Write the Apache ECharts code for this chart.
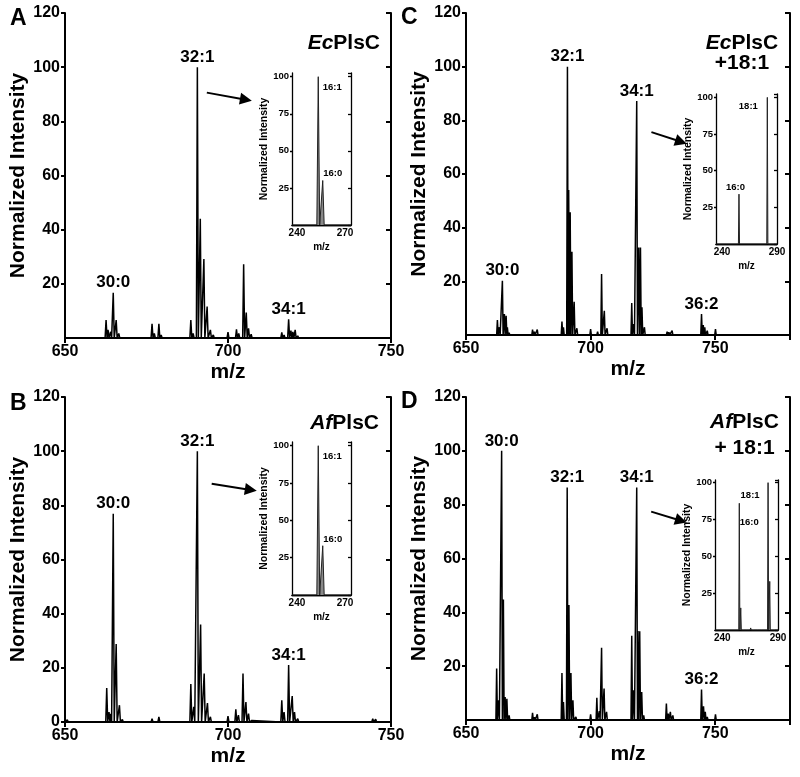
<!DOCTYPE html>
<html><head><meta charset="utf-8">
<script src="https://cdn.jsdelivr.net/npm/echarts@6/dist/echarts.min.js"></script>
<style>html,body{margin:0;padding:0;background:#fff}#c{width:800px;height:777px}</style>
</head><body><div id="c"></div>
<script>
const FONT = '"Liberation Sans", Arial, Helvetica, sans-serif';

// ---------------- DATA ----------------
// main spectra: [m/z, normalized intensity]
const peaksA = [[660.7,0.7],[662.6,6.6],[663.2,3],[664.0,2.3],[664.8,16.7],[665.7,6.6],[666.5,1.7],[667.3,0.6],
  [676.7,5.2],[677.4,1.7],[678.8,5.2],[679.5,1.1],
  [688.6,6.6],[689.3,1.7],[690.6,100],[691.5,44],[692.6,29.2],[693.6,11.6],[694.6,3],[695.5,1.1],
  [700.0,2.2],[702.6,3.2],[703.3,1.7],[704.8,27.2],[705.6,9.4],[706.3,3.6],[707.1,1.4],
  [716.5,2.1],[717.2,1.1],[718.6,6.9],[719.3,2.7],[719.9,2.3],[720.6,3],[721.4,0.8]];
const peaksB = [[650.7,0.8],[662.8,12.5],[663.5,3.7],[664.0,3],[664.8,76.9],[665.7,28.8],[666.7,6.2],[667.6,0.9],
  [676.7,1.2],[677.5,0.5],[678.8,1.9],[679.5,0.6],
  [688.6,14],[689.5,5.6],[690.6,100],[691.6,36],[692.7,17.9],[693.7,7],[694.6,1.9],
  [700.0,2.2],[702.4,4.7],[703.2,2.5],[704.6,17.9],[705.5,7.4],[706.3,3.1],[707.3,0.6],
  [716.5,8],[717.2,3.7],[718.6,21],[719.7,9.6],[720.4,3.7],[721.4,1.2],[722.1,0.5],
  [730.8,0.6],[732.7,0.6],[744.4,1.2],[745.3,1]];
const peaksC = [[662.6,5.6],[663.4,2.9],[664.6,20.2],[665.4,7.8],[666.1,7.2],[666.6,2.9],[667.3,0.8],
  [676.7,2],[677.4,1.2],[678.6,2],
  [688.5,5],[689.1,2.9],[690.7,100],[691.2,54],[691.8,45.7],[692.5,31],[693.4,12.4],[694.5,2.5],
  [700.0,2.2],[702.8,1.2],[704.4,22.7],[705.5,9],[706.6,2.5],
  [716.5,11.9],[717.3,4.1],[718.5,87.2],[719.3,32.6],[720.0,32.6],[720.6,10.3],[721.6,2.9],
  [730.7,1.2],[731.4,1],[732.7,1.6],
  [744.5,7.8],[745.2,3.7],[745.8,2.9],[746.8,1.6],
  [750.1,2.2]];
const peaksD = [[662.3,19.1],[663.1,7.3],[664.3,100],[665.0,44.8],[665.7,8.5],[666.4,7.9],[667.3,1.7],
  [676.7,2.7],[677.5,1],[678.6,2.1],
  [688.5,17.5],[689.1,6.7],[690.6,86.4],[691.3,42.7],[692.1,17.5],[692.9,7.3],[694.1,1.1],
  [700.0,2.1],[702.5,8.3],[703.5,3.3],[704.4,26.8],[705.4,11.7],[706.4,3],[707.5,0.5],
  [716.5,31.3],[717.3,11],[718.5,86.4],[719.0,33.1],[719.7,33],[720.5,10.4],[721.3,1.7],
  [730.4,6.1],[731.1,2.4],[732.0,3],[733.0,1.7],[734.0,0.6],
  [744.5,11.3],[745.3,5.1],[746.0,3],[746.8,1.1],
  [750.1,2.1]];

// peak annotations: [label, m/z, intensity]
const labelsA = [['30:0',664.8,16.7],['32:1',690.6,100],['34:1',718.6,6.9]];
const labelsB = [['30:0',664.8,76.9],['32:1',690.6,100],['34:1',718.6,21]];
const labelsC = [['30:0',664.6,20.2],['32:1',690.7,100],['34:1',718.5,87.2],['36:2',744.5,7.8]];
const labelsD = [['30:0',664.3,100],['32:1',690.6,86.4],['34:1',718.5,86.4],['36:2',744.5,11.3]];

// arrows: [start, end] in data coords
const arrowA = [[693.5,90.6],[705.5,88.0]];
const arrowB = [[695.0,88.0],[707.0,85.7]];
const arrowC = [[724.4,75.6],[736.3,72.0]];
const arrowD = [[724.3,77.4],[736.3,74.0]];

// inset spectra (fatty acids)
const insetPeaksA = [[253.3,100],[256.1,30]];
const insetPeaksB = [[253.3,100],[256.1,33],[268.5,1]];
const insetPeaksC = [[255.4,34],[281.2,100]];
const insetPeaksD = [[255.3,86],[256.6,15],[259.5,1.2],[262.5,0.8],[265.5,1.4],[268.5,0.8],[272.0,1.2],[275.5,0.8],[281.1,100],[282.6,33]];
const insetLabelsA = [['16:1',253.3,100],['16:0',256.1,30]];
const insetLabelsB = [['16:1',253.3,100],['16:0',256.1,33]];
const insetLabelsC = [['16:0',255.4,34],['18:1',281.2,100]];
const insetLabelsD = [['16:0',255.3,86],['18:1',281.1,100]];

const mainYTicks = [0,20,40,60,80,100,120];
const insetXTicksAB = [240,270];
const insetXTicksCD = [240,290];

// ---------------- LAYOUT / STYLE ----------------
const panels = [
  {letter:'A', lx:10, ly:18.5, peaks:peaksA, labels:labelsA, arrow:arrowA, xmax:750, zero:false,
   grid:{left:65,top:13,width:326,height:325},
   title:'{i|Ec}{b|PlsC}', tx:380, ty:43, talign:'right', tlh:21,
   inset:{peaks:insetPeaksA, labels:insetLabelsA, pos:[[5,11,'left'],[1,-7,'left']], xmin:236.9, xmax:273.75, ymax:102.5,
          ticks:insetXTicksAB, w:0.9, ngap:16, grid:{left:292,top:73,width:59,height:152}}},
  {letter:'B', lx:10, ly:404, peaks:peaksB, labels:labelsB, arrow:arrowB, xmax:750, zero:true,
   grid:{left:65,top:397,width:326,height:325},
   title:'{i|Af}{b|PlsC}', tx:379, ty:423, talign:'right', tlh:21,
   inset:{peaks:insetPeaksB, labels:insetLabelsB, pos:[[5,11,'left'],[1,-6,'left']], xmin:236.9, xmax:273.75, ymax:102.5,
          ticks:insetXTicksAB, w:0.9, ngap:16, grid:{left:292,top:442,width:59,height:153}}},
  {letter:'C', lx:401, ly:17.5, peaks:peaksC, labels:labelsC, arrow:arrowC, xmax:780, zero:false,
   grid:{left:466,top:13,width:324,height:322},
   title:'{i|Ec}{b|PlsC}\n{b|+18:1}', tx:742, ty:53, talign:'center', tlh:20,
   inset:{peaks:insetPeaksC, labels:insetLabelsC, pos:[[-3,-6,'center'],[-9,10,'right']], xmin:234.5, xmax:290, ymax:102.3,
          ticks:insetXTicksCD, w:0.5, ngap:14, grid:{left:716,top:94,width:61,height:150}}},
  {letter:'D', lx:401, ly:401.5, peaks:peaksD, labels:labelsD, arrow:arrowD, xmax:780, zero:false,
   grid:{left:466,top:397,width:324,height:323},
   title:'{i|Af}{b|PlsC}\n{b|+ 18:1}', tx:744.5, ty:435, talign:'center', tlh:25.5,
   inset:{peaks:insetPeaksD, labels:insetLabelsD, pos:[[1,20,'left'],[-8,13,'right']], xmin:233.5, xmax:290, ymax:101.8,
          ticks:insetXTicksCD, w:0.5, ngap:14, grid:{left:715,top:480,width:63,height:150}}}
];

function profile(peaks, w, x0, x1) {
  const d = [[x0, 0]];
  peaks.forEach(([m, h]) => { d.push([m - w, 0], [m, h], [m + w, 0]); });
  d.push([x1, 0]);
  return d;
}

const BLACK = '#000';
const txt = (size, extra) => Object.assign({color: BLACK, fontFamily: FONT, fontWeight: 'bold', fontSize: size}, extra || {});

const option = {animation:false, backgroundColor:'#fff', grid:[], xAxis:[], yAxis:[], series:[], graphic:[]};

panels.forEach(p => {
  // ---- main panel ----
  const gi = option.grid.length;
  option.grid.push(Object.assign({containLabel:false}, p.grid));
  const xb = option.xAxis.length;
  option.xAxis.push({gridIndex:gi, type:'value', min:650, max:p.xmax, interval:50, position:'bottom',
    axisLine:{lineStyle:{color:BLACK, width:2}}, axisTick:{show:true, inside:false, length:4, lineStyle:{width:2, color:BLACK}},
    axisLabel:Object.assign(txt(16), {margin:6, showMaxLabel: p.xmax === 750}), splitLine:{show:false},
    name:'m/z', nameLocation:'middle', nameGap:24, nameTextStyle:txt(21)});
  option.xAxis.push({gridIndex:gi, type:'value', min:650, max:p.xmax, interval:50, position:'top',
    axisLine:{lineStyle:{color:BLACK, width:2}}, axisTick:{show:true, inside:true, length:5, lineStyle:{width:2, color:BLACK}},
    axisLabel:{show:false}, splitLine:{show:false}});
  const yl = option.yAxis.length;
  option.yAxis.push({gridIndex:gi, type:'value', min:mainYTicks[0], max:mainYTicks[mainYTicks.length-1], interval:mainYTicks[1]-mainYTicks[0], position:'left',
    axisLine:{show:true, lineStyle:{color:BLACK, width:2}}, axisTick:{show:true, inside:false, length:4, lineStyle:{width:2, color:BLACK}},
    axisLabel:Object.assign(txt(16), {margin:5, showMinLabel:p.zero}), splitLine:{show:false},
    name:'Normalized Intensity', nameLocation:'middle', nameGap:36, nameTextStyle:txt(21)});
  option.yAxis.push({gridIndex:gi, type:'value', min:mainYTicks[0], max:mainYTicks[mainYTicks.length-1], interval:mainYTicks[1]-mainYTicks[0], position:'right',
    axisLine:{show:true, lineStyle:{color:BLACK, width:2}}, axisTick:{show:true, inside:true, length:5, lineStyle:{width:2, color:BLACK}},
    axisLabel:{show:false}, splitLine:{show:false}});
  option.series.push({type:'line', xAxisIndex:xb, yAxisIndex:yl, data:profile(p.peaks, 0.3, 650, p.xmax),
    showSymbol:false, symbol:'none', lineStyle:{color:BLACK, width:1.5}, z:3, silent:true,
    markPoint:{symbol:'rect', symbolSize:1, itemStyle:{color:'rgba(0,0,0,0)'}, silent:true,
      label:Object.assign(txt(17), {show:true, position:'top', distance:1, formatter:'{b}'}),
      data:p.labels.map(([n,x,y]) => ({name:n, coord:[x,y]}))},
    markLine:{silent:true, symbol:['none','triangle'], symbolSize:12, label:{show:false},
      itemStyle:{color:BLACK}, lineStyle:{color:BLACK, width:2, type:'solid'}, emphasis:{disabled:true},
      data:[[{coord:p.arrow[0]},{coord:p.arrow[1]}]]}});

  // ---- inset ----
  const q = p.inset;
  const gj = option.grid.length;
  option.grid.push(Object.assign({containLabel:false}, q.grid));
  const ixb = option.xAxis.length;
  option.xAxis.push({gridIndex:gj, type:'value', min:q.xmin, max:q.xmax, position:'bottom',
    axisLine:{lineStyle:{color:BLACK, width:1.3}}, axisTick:{show:false},
    axisLabel:Object.assign(txt(10), {margin:3, customValues:q.ticks, showMinLabel:true, showMaxLabel:true}), splitLine:{show:false},
    name:'m/z', nameLocation:'middle', nameGap:17, nameTextStyle:txt(10)});
  option.xAxis.push({gridIndex:gj, type:'value', min:q.xmin, max:q.xmax, position:'top',
    axisLine:{lineStyle:{color:BLACK, width:1.3}}, axisTick:{show:false}, axisLabel:{show:false}, splitLine:{show:false}});
  const iyl = option.yAxis.length;
  option.yAxis.push({gridIndex:gj, type:'value', min:0, max:q.ymax, interval:25, position:'left',
    axisLine:{show:true, lineStyle:{color:BLACK, width:1.3}}, axisTick:{show:true, inside:false, length:2, lineStyle:{width:1.3, color:BLACK}},
    axisLabel:Object.assign(txt(9.5), {margin:3, showMinLabel:false}), splitLine:{show:false},
    name:'Normalized Intensity', nameLocation:'middle', nameGap:q.ngap, nameTextStyle:txt(10.5)});
  option.yAxis.push({gridIndex:gj, type:'value', min:0, max:q.ymax, interval:25, position:'right',
    axisLine:{show:true, lineStyle:{color:BLACK, width:1.3}}, axisTick:{show:true, inside:true, length:3, lineStyle:{width:1.3, color:BLACK}},
    axisLabel:{show:false}, splitLine:{show:false}});
  option.series.push({type:'line', xAxisIndex:ixb, yAxisIndex:iyl, data:profile(q.peaks, q.w, q.xmin, q.xmax),
    showSymbol:false, symbol:'none', lineStyle:{color:'#222', width:1}, areaStyle:{color:'#888', opacity:1}, z:3, silent:true,
    markPoint:{symbol:'rect', symbolSize:1, itemStyle:{color:'rgba(0,0,0,0)'}, silent:true,
      data:q.labels.map(([n,x,y], k) => ({name:n, coord:[x,y],
        label:Object.assign(txt(9.5), {show:true, position:[q.pos[k][0], q.pos[k][1]], align:q.pos[k][2], verticalAlign:'middle', formatter:'{b}'})}))}});

  // ---- texts ----
  option.graphic.push({type:'text', x:p.lx, y:p.ly, silent:true,
    style:{text:p.letter, fill:BLACK, font:'bold 23px ' + FONT, align:'left', verticalAlign:'middle'}});
  option.graphic.push({type:'text', x:p.tx, y:p.ty, silent:true,
    style:{text:p.title, fill:BLACK, fontFamily:FONT, fontSize:21, fontWeight:'bold', align:p.talign, verticalAlign:'middle', lineHeight:p.tlh,
      rich:{i:{fontFamily:FONT, fontSize:21, fontWeight:'bold', fontStyle:'italic', lineHeight:p.tlh, fill:BLACK},
            b:{fontFamily:FONT, fontSize:21, fontWeight:'bold', lineHeight:p.tlh, fill:BLACK}}}});
});

const chart = echarts.init(document.getElementById('c'), null, {renderer:'canvas'});
chart.setOption(option);
</script>
</body></html>
